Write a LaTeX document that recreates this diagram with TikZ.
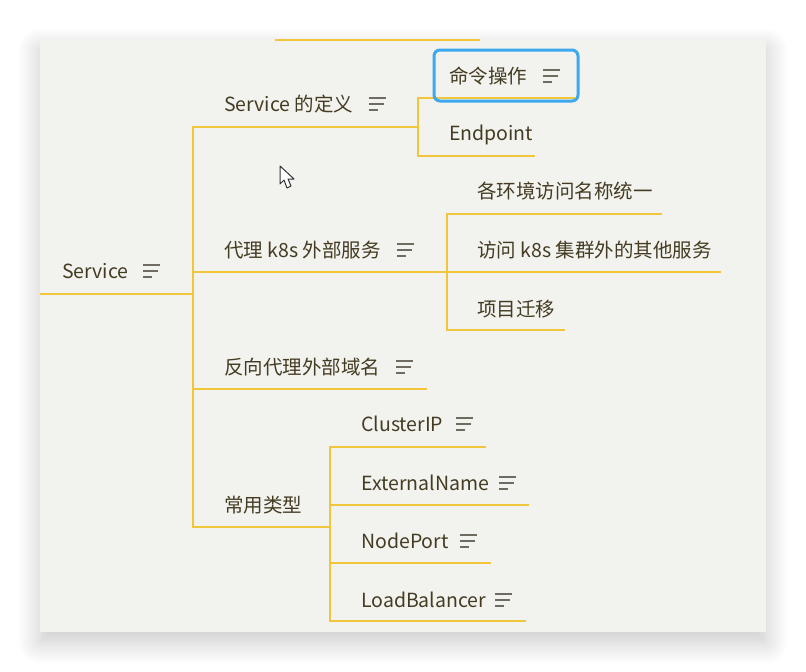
\documentclass[tikz,border=0pt]{standalone}
\usepackage{fontspec}
\setmainfont{Noto Sans CJK SC}
\usetikzlibrary{shadows.blur}
\definecolor{panelgray}{RGB}{242,242,239}
\definecolor{branchyellow}{RGB}{242,198,58}
\definecolor{topictext}{RGB}{68,60,34}
\definecolor{menugray}{RGB}{110,108,96}
\definecolor{selectblue}{RGB}{60,168,240}
\begin{document}
\begin{tikzpicture}[x=1pt, y=-1pt,
  topic/.style = {anchor=base west, inner sep=0pt, text=topictext,
    font=\fontsize{19.5}{23}\selectfont},
  branch/.style = {draw=branchyellow, line width=2pt},
  menu/.pic = {
    \draw[menugray, line width=2pt] (0,-6) -- ++(17,0)
      (0,0) -- ++(15,0) (0,6) -- ++(9,0);
  }]
  \useasboundingbox (0,0) rectangle (806,672);
  \fill[panelgray, blur shadow={shadow xshift=0pt, shadow yshift=-10pt,
    shadow blur radius=22pt, shadow blur steps=12, shadow opacity=22}]
    (40,40) rectangle (766,632);
  \draw[branch] (275,40) -- (480,40);
  % topics
  \node[topic] (root) at (62,278) {Service};
  \node[topic] (def) at (224,111) {Service 的定义};
  \node[topic] (cmd) at (449,83) {命令操作};
  \node[topic] (ep) at (449,140) {Endpoint};
  \node[topic] (proxy) at (224,257) {代理 k8s 外部服务};
  \node[topic] (env) at (477,198) {各环境访问名称统一};
  \node[topic] (outer) at (477,257) {访问 k8s 集群外的其他服务};
  \node[topic] (mig) at (477,316) {项目迁移};
  \node[topic] (rev) at (224,374) {反向代理外部域名};
  \node[topic] (types) at (224,512) {常用类型};
  \node[topic] (cip) at (361,431) {ClusterIP};
  \node[topic] (en) at (361,490) {ExternalName};
  \node[topic] (np) at (361,548) {NodePort};
  \node[topic] (lb) at (361,607) {LoadBalancer};
  % note icons
  \pic at (143,271) {menu};
  \pic at (369,104) {menu};
  \pic at (543,76) {menu};
  \pic at (397,250) {menu};
  \pic at (396,367) {menu};
  \pic at (456,424) {menu};
  \pic at (499,483) {menu};
  \pic at (460,541) {menu};
  \pic at (495,600) {menu};
  % underline ends
  \coordinate (root-s) at (40,294);
  \coordinate (root-e) at (193,294);
  \coordinate (def-e) at (418,127);
  \coordinate (cmd-e) at (575,98);
  \coordinate (ep-e) at (535,156);
  \coordinate (proxy-e) at (447,272);
  \coordinate (env-e) at (662,214);
  \coordinate (outer-e) at (721,272);
  \coordinate (mig-e) at (565,330);
  \coordinate (rev-e) at (427,389);
  \coordinate (types-e) at (330,527);
  \coordinate (cip-e) at (486,447);
  \coordinate (en-e) at (529,505);
  \coordinate (np-e) at (491,563);
  \coordinate (lb-e) at (526,621);
  % branches
  \draw[branch] (root-s) -- (root-e);
  \foreach \t in {def, proxy, rev, types}
    \draw[branch] (root-e) |- (\t-e);
  \foreach \t in {cmd, ep}
    \draw[branch] (def-e) |- (\t-e);
  \foreach \t in {env, outer, mig}
    \draw[branch] (proxy-e) |- (\t-e);
  \foreach \t in {cip, en, np, lb}
    \draw[branch] (types-e) |- (\t-e);
  % selection frame
  \draw[selectblue, line width=3pt, rounded corners=6pt] (434,50) rectangle (578,101);
  % mouse pointer
  \draw[fill=white, draw=black!80, line width=1pt, line join=round]
    (280,166) -- (280,184) -- (284,180) -- (287,188) -- (291,186)
    -- (288,179) -- (294,179) -- cycle;
\end{tikzpicture}
\end{document}
